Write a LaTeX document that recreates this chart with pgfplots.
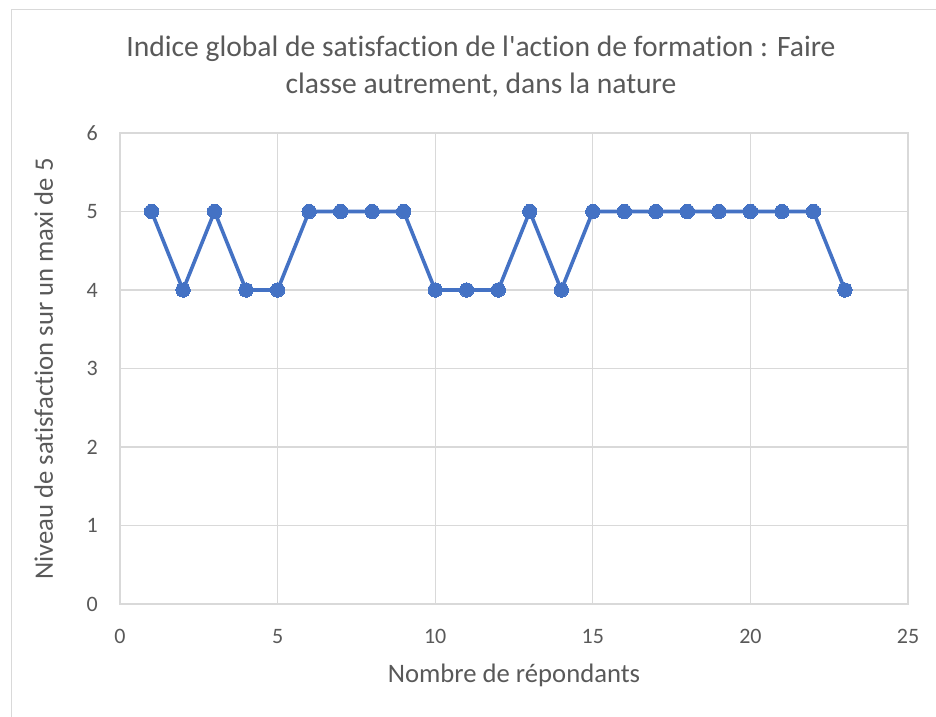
\documentclass[border=0pt]{standalone}
\usepackage{pgfplots}
\pgfplotsset{compat=1.18}
\usepackage{fontspec}
\setmainfont{Carlito}[Ligatures={NoCommon}]
\newfontfamily\plainfont{Carlito}[Ligatures={NoCommon}]
\definecolor{excelblue}{HTML}{4472C4}
\definecolor{gridgray}{HTML}{D9D9D9}
\definecolor{txtgray}{HTML}{595959}
\definecolor{bordergray}{HTML}{D9D9D9}
\begin{document}
\begin{tikzpicture}
\path[use as bounding box] (-90pt,-84.75pt) rectangle (612pt,453pt);
\draw[bordergray, line width=0.75pt] (-81pt,-90pt) -- (-81pt,445.5pt) -- (620pt,445.5pt);
\begin{axis}[
  scale only axis,
  width=591pt, height=353.25pt,
  xmin=0, xmax=25, ymin=0, ymax=6,
  xtick={0,5,10,15,20,25},
  ytick={0,1,2,3,4,5,6},
  grid=major,
  major grid style={gridgray, line width=1pt},
  axis line style={gridgray, line width=1pt},
  major tick length=0pt,
  /pgf/number format/assume math mode=true,
  tick label style={font=\fontsize{16.5}{18}\selectfont, text=txtgray, inner sep=0pt},
  xticklabel style={anchor=north, yshift=-18.75pt},
  yticklabel style={anchor=east, xshift=-16.5pt},
  clip=false,
]
\addplot[excelblue, line width=2.7pt, mark=*, mark size=5.4pt, mark options={fill=excelblue, draw=excelblue, line width=0pt}] coordinates {
(1,5) (2,4) (3,5) (4,4) (5,4) (6,5) (7,5) (8,5) (9,5) (10,4) (11,4) (12,4)
(13,5) (14,4) (15,5) (16,5) (17,5) (18,5) (19,5) (20,5) (21,5) (22,5) (23,4)
};
\end{axis}
\node[anchor=base, text=txtgray, font=\plainfont\fontsize{22.2}{27.75}\selectfont, inner sep=0pt] at (270.75pt,410.25pt) {Indice global de satisfaction de l'action de formation : Faire};
\node[anchor=base, text=txtgray, font=\plainfont\fontsize{22.2}{27.75}\selectfont, inner sep=0pt] at (270.75pt,382.5pt) {classe autrement, dans la nature};
\node[anchor=base, text=txtgray, font=\fontsize{20}{22}\selectfont, inner sep=0pt] at (295.5pt,-59.25pt) {Nombre de répondants};
\node[anchor=base, rotate=90, text=txtgray, font=\fontsize{20}{22}\selectfont, inner sep=0pt] at (-50.25pt,176.25pt) {Niveau de satisfaction sur un maxi de 5};
\end{tikzpicture}
\end{document}
